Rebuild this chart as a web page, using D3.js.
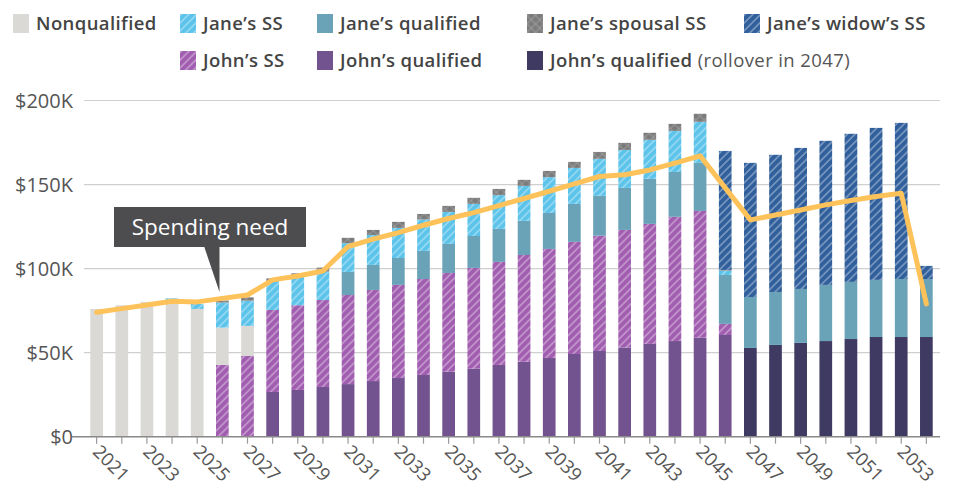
<!DOCTYPE html>
<html><head><meta charset="utf-8">
<script src="https://cdn.jsdelivr.net/npm/d3@7"></script>
<style>
html,body{margin:0;padding:0;background:#fff;}
svg{display:block;font-family:"Open Sans",sans-serif;}
</style></head>
<body><svg id="chart" width="955" height="492"></svg>
<script>
const years = d3.range(2021, 2055);
const xTickYears = d3.range(2021, 2054, 2);
const yTicks = [0, 50, 100, 150, 200];

// values in $K, one per year 2021..2054
const johnQualified = [0,0,0,0,0,0,0,26.6,27.8,29.6,31.3,33.1,34.9,36.7,38.7,40.5,42.7,44.6,46.8,49.2,51.0,53.0,55.2,56.9,58.9,60.5,0,0,0,0,0,0,0,0];
const johnRollover  = [0,0,0,0,0,0,0,0,0,0,0,0,0,0,0,0,0,0,0,0,0,0,0,0,0,0,52.8,54.6,55.8,56.9,58.1,59.3,59.3,59.3];
const johnSS        = [0,0,0,0,0,42.7,48.0,48.8,50.4,51.7,53.0,54.2,55.4,57.1,58.7,59.9,61.3,63.5,64.9,66.7,68.6,70.0,71.4,73.9,75.4,6.6,0,0,0,0,0,0,0,0];
const nonqualified  = [76.0,78.2,80.2,81.3,76.0,22.2,17.9,0,0,0,0,0,0,0,0,0,0,0,0,0,0,0,0,0,0,0,0,0,0,0,0,0,0,0];
const janeQualified = [0,0,0,0,0,0,0,0,0,0,13.7,14.9,16.0,16.7,17.3,19.0,19.6,20.3,21.4,22.6,23.7,25.0,26.8,26.7,28.6,29.1,30.3,31.5,32.1,33.4,34.0,34.0,34.5,34.5];
const janeSS        = [0,0,0,1.0,3.0,14.9,15.0,17.1,17.4,16.9,17.1,17.8,17.9,18.7,19.0,19.1,20.1,20.8,21.3,21.4,22.0,22.6,23.2,24.4,24.4,2.6,0,0,0,0,0,0,0,0];
const janeSpousal   = [0,0,0,0,0,1.2,2.0,1.7,1.6,2.4,3.2,3.0,3.6,3.3,3.6,3.6,3.7,3.6,3.7,3.6,4.1,4.2,4.2,4.2,4.8,0.4,0,0,0,0,0,0,0,0];
const janeWidow     = [0,0,0,0,0,0,0,0,0,0,0,0,0,0,0,0,0,0,0,0,0,0,0,0,0,70.8,79.8,81.6,83.9,85.7,88.1,90.4,92.9,7.8];
const spendingNeed  = [74.0,76.2,78.4,80.6,80.2,82.3,84.3,93.3,95.6,98.6,113.1,117.5,121.4,125.8,129.8,133.3,137.5,141.7,146.0,150.4,154.8,155.8,158.7,162.7,167.1,148.0,129.0,131.9,134.9,137.9,140.5,142.9,144.8,79.0];

const seriesKeys = ["johnQualified","johnRollover","johnSS","nonqualified","janeQualified","janeSS","janeSpousal","janeWidow"];
const seriesData = {johnQualified, johnRollover, johnSS, nonqualified, janeQualified, janeSS, janeSpousal, janeWidow};
const rows = years.map((y,i) => { const r = {year:y}; seriesKeys.forEach(k => r[k] = seriesData[k][i]); return r; });

const fills = {
  johnQualified: "#72528f",
  johnRollover: "#3f3a61",
  johnSS: "url(#hatch-johnSS)",
  nonqualified: "#dad9d5",
  janeQualified: "#6aa3b8",
  janeSS: "url(#hatch-janeSS)",
  janeSpousal: "url(#cross-spousal)",
  janeWidow: "url(#hatch-widow)"
};

const svg = d3.select("#chart");
const defs = svg.append("defs");
function hatch(id, base) {
  const p = defs.append("pattern").attr("id", id).attr("patternUnits","userSpaceOnUse")
    .attr("width", 5.5).attr("height", 5.5).attr("patternTransform","rotate(45)");
  p.append("rect").attr("width",5.5).attr("height",5.5).attr("fill",base);
  p.append("line").attr("x1",1).attr("x2",1).attr("y1",0).attr("y2",5.5)
    .attr("stroke","#fff").attr("stroke-opacity",0.5).attr("stroke-width",1.2);
}
hatch("hatch-johnSS", "#a15eb0");
hatch("hatch-janeSS", "#5cc3ea");
hatch("hatch-widow", "#305f9b");
const cp = defs.append("pattern").attr("id","cross-spousal").attr("patternUnits","userSpaceOnUse")
  .attr("width",6).attr("height",6).attr("patternTransform","rotate(45)");
cp.append("rect").attr("width",6).attr("height",6).attr("fill","#7b7b7b");
cp.append("line").attr("x1",1).attr("x2",1).attr("y1",0).attr("y2",6).attr("stroke","#a8a8a8").attr("stroke-width",0.7);
cp.append("line").attr("x1",0).attr("x2",6).attr("y1",1).attr("y2",1).attr("stroke","#a8a8a8").attr("stroke-width",0.7);

const x = d3.scaleBand().domain(years).range([84, 939]).paddingInner(0.495).paddingOuter(0.25);
const y = d3.scaleLinear().domain([0, 200]).range([436.7, 100.5]);

// gridlines
svg.append("g").selectAll("line").data(yTicks.filter(d => d > 0)).join("line")
  .attr("x1", 84).attr("x2", 940).attr("y1", d => y(d)).attr("y2", d => y(d))
  .attr("stroke", "#cfcfcf").attr("stroke-width", 1.2);

// y labels
svg.append("g").selectAll("text").data(yTicks).join("text")
  .attr("x", 73).attr("y", d => y(d)).attr("dy", "0.36em").attr("text-anchor","end")
  .attr("font-size", 20).attr("fill", "#555")
  .text(d => d === 0 ? "$0" : `$${d}K`);

// bars
const stack = d3.stack().keys(seriesKeys)(rows);
svg.append("g").selectAll("g").data(stack).join("g")
  .attr("fill", d => fills[d.key])
  .selectAll("rect").data(d => d.filter(s => s[1] - s[0] > 0)).join("rect")
  .attr("x", d => x(d.data.year)).attr("width", x.bandwidth())
  .attr("y", d => y(d[1])).attr("height", d => y(d[0]) - y(d[1]));

// x axis
const xAxisG = svg.append("g").attr("transform", `translate(0,${y(0)})`);
xAxisG.append("line").attr("x1", 72).attr("x2", 940).attr("stroke", "#888").attr("stroke-width", 1.5);
xAxisG.selectAll(".tick").data(years).join("line")
  .attr("x1", d => x(d) + x.bandwidth()/2).attr("x2", d => x(d) + x.bandwidth()/2)
  .attr("y1", 0).attr("y2", 7).attr("stroke", "#999").attr("stroke-width", 1.2);
xAxisG.selectAll("text").data(xTickYears).join("text")
  .attr("transform", d => `translate(${x(d) + x.bandwidth()/2 - 5},${16}) rotate(45)`)
  .attr("font-size", 18.5).attr("fill", "#555").attr("text-anchor","start")
  .text(d => d);

// spending line
const line = d3.line().x((d,i) => x(years[i]) + x.bandwidth()/2).y(d => y(d));
svg.append("path").datum(spendingNeed).attr("d", line)
  .attr("fill","none").attr("stroke","#fdc25a").attr("stroke-width",5).attr("stroke-linejoin","round").attr("stroke-linecap","round");

// annotation
const ann = svg.append("g");
ann.append("rect").attr("x",114).attr("y",207).attr("width",192).attr("height",40).attr("fill","#4d4d4f");
ann.append("path").attr("d","M204,246 L219.5,246 L219.5,292 Z").attr("fill","#4d4d4f");
ann.append("text").attr("x",210).attr("y",235).attr("text-anchor","middle").attr("font-size",22.5)
  .attr("font-weight",500).attr("fill","#fff").text("Spending need");

// legend
const legendItems = [
  {key:"nonqualified", label:"Nonqualified", x:13, row:0},
  {key:"janeSS", label:"Jane’s SS", x:180, row:0},
  {key:"janeQualified", label:"Jane’s qualified", x:317, row:0},
  {key:"janeSpousal", label:"Jane’s spousal SS", x:527, row:0},
  {key:"janeWidow", label:"Jane’s widow’s SS", x:744, row:0},
  {key:"johnSS", label:"John’s SS", x:180, row:1},
  {key:"johnQualified", label:"John’s qualified", x:317, row:1},
  {key:"johnRollover", label:"John’s qualified", extra:" (rollover in 2047)", x:527, row:1}
];
const lg = svg.append("g").selectAll("g").data(legendItems).join("g")
  .attr("transform", d => `translate(${d.x},${d.row ? 51 : 14})`);
lg.append("rect").attr("width",16).attr("height",19).attr("fill", d => fills[d.key]);
const lt = lg.append("text").attr("x",23).attr("y",16).attr("font-size",18.5).attr("fill","#444")
  .attr("letter-spacing", 0.4);
lt.append("tspan").attr("font-weight",600).text(d => d.label);
lt.filter(d => d.extra).append("tspan").attr("font-weight",400).attr("fill","#555").text(d => d.extra);
</script></body></html>
